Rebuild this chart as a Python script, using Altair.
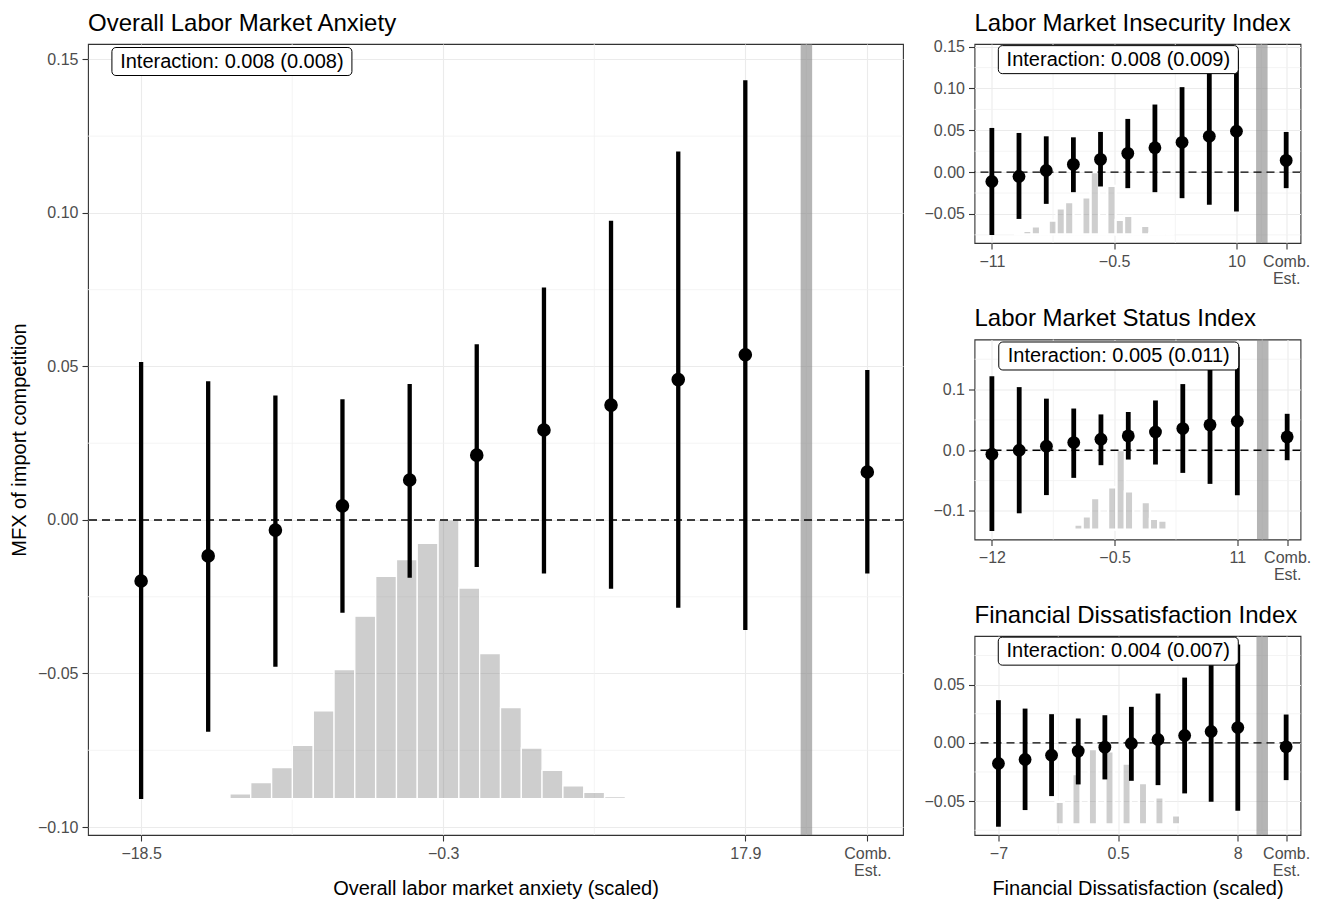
import altair as alt
import pandas as pd

FONT = "Liberation Sans"

# ---------------- data ----------------
# Main panel: Overall Labor Market Anxiety
main_x = [-18.5, -14.46, -10.41, -6.37, -2.32, 1.72, 5.77, 9.81, 13.86, 17.9]
main_est = [-0.0199, -0.0117, -0.0033, 0.0046, 0.0130, 0.0211, 0.0293, 0.0374, 0.0457, 0.0538]
main_lo = [-0.0909, -0.0690, -0.0478, -0.0302, -0.0188, -0.0153, -0.0174, -0.0224, -0.0286, -0.0358]
main_hi = [0.0514, 0.0452, 0.0405, 0.0393, 0.0443, 0.0572, 0.0757, 0.0974, 0.1200, 0.1432]
main_comb = [25.25, 0.0156, -0.0174, 0.0488]
main_hist_c = [-13.77, -12.52, -11.27, -10.01, -8.76, -7.50, -6.25, -5.00, -3.74, -2.49,
               -1.24, 0.02, 1.27, 2.52, 3.78, 5.03, 6.28, 7.54, 8.79, 10.05]
main_hist_h = [0.004, 0.018, 0.058, 0.112, 0.192, 0.315, 0.463, 0.655, 0.798, 0.858,
               0.916, 1.0, 0.756, 0.521, 0.327, 0.182, 0.102, 0.046, 0.023, 0.008]
main_ticks = [-18.5, -0.3, 17.9, 25.25]
main_tick_labels = ["\u221218.5", "\u22120.3", "17.9", "Comb.|Est."]
main_label = ["Interaction: 0.008 (0.008)", -13.03, 0.1493]

# Panel 1: Labor Market Insecurity Index
p1_x = [-11, -8.67, -6.33, -4.0, -1.67, 0.67, 3.0, 5.33, 7.67, 10]
p1_est = [-0.0112, -0.0052, 0.0020, 0.0092, 0.0152, 0.0224, 0.0292, 0.0356, 0.0428, 0.0488]
p1_lo = [-0.0752, -0.0560, -0.0380, -0.0240, -0.0172, -0.0192, -0.0240, -0.0312, -0.0392, -0.0472]
p1_hi = [0.0528, 0.0468, 0.0428, 0.0416, 0.0480, 0.0636, 0.0808, 0.1016, 0.1248, 0.1448]
p1_comb = [14.27, 0.0140, -0.0192, 0.0480]
p1_hist_c = [-8.65, -7.94, -7.22, -6.50, -5.76, -5.08, -4.36, -3.64, -2.87, -2.16,
             -1.44, -0.73, -0.01, 0.71, 1.42, 2.17, 2.88, 3.57, 4.31]
p1_hist_h = [0.016, 0.055, 0.126, 0, 0.22, 0.418, 0.516, 0, 0.593, 1.0,
             0, 0.78, 0.231, 0.297, 0, 0.137, 0.016, 0, 0]
p1_ticks = [-11, -0.5, 10, 14.27]
p1_tick_labels = ["\u221211", "\u22120.5", "10", "Comb.|Est."]
p1_label = ["Interaction: 0.008 (0.009)", -0.14, 0.1345]

# Panel 2: Labor Market Status Index
p2_x = [-12, -9.44, -6.89, -4.33, -1.78, 0.78, 3.33, 5.89, 8.44, 11]
p2_est = [-0.0066, 0.0000, 0.0066, 0.0126, 0.0180, 0.0236, 0.0300, 0.0357, 0.0418, 0.0478]
p2_lo = [-0.133, -0.104, -0.074, -0.0456, -0.0247, -0.0154, -0.0236, -0.0374, -0.0555, -0.0742]
p2_hi = [0.122, 0.104, 0.085, 0.0687, 0.059, 0.063, 0.082, 0.109, 0.139, 0.170]
p2_comb = [15.67, 0.022, -0.0165, 0.060]
p2_hist_c = [-4.70, -3.88, -3.10, -2.32, -1.53, -0.72, 0.07, 0.85, 1.63, 2.42, 3.20, 3.98]
p2_hist_h = [0.017, 0.064, 0.169, 0.398, 0, 0.534, 1.0, 0.483, 0, 0.347, 0.136, 0.114]
p2_ticks = [-12, -0.5, 11, 15.67]
p2_tick_labels = ["\u221212", "\u22120.5", "11", "Comb.|Est."]
p2_label = ["Interaction: 0.005 (0.011)", -0.11, 0.1553]

# Panel 3: Financial Dissatisfaction Index
p3_x = [-7, -5.33, -3.67, -2.0, -0.33, 1.33, 3.0, 4.67, 6.33, 8]
p3_est = [-0.0177, -0.0143, -0.0106, -0.0071, -0.0037, -0.0006, 0.0029, 0.0063, 0.0097, 0.0131]
p3_lo = [-0.0720, -0.0577, -0.0457, -0.0357, -0.0314, -0.0326, -0.0363, -0.0434, -0.0506, -0.0583]
p3_hi = [0.0366, 0.0294, 0.0246, 0.0209, 0.0237, 0.0309, 0.0423, 0.0560, 0.0700, 0.0845]
p3_comb = [11.03, -0.0034, -0.0320, 0.0243]
p3_hist_c = [-4.20, -3.16, -2.11, -1.08, -0.04, 1.03, 2.06, 3.09, 4.13]
p3_hist_h = [0.03, 0.30, 0.67, 1.0, 0.97, 0.81, 0.55, 0.36, 0.12]
p3_ticks = [-7, 0.5, 8, 11.03]
p3_tick_labels = ["\u22127", "0.5", "8", "Comb.|Est."]
p3_label = ["Interaction: 0.004 (0.007)", 0.51, 0.0787]


def label_expr(ticks, labels):
    expr = "''"
    for v, lab in reversed(list(zip(ticks, labels))):
        if "|" in lab:
            parts = lab.split("|")
            s = "[" + ", ".join("'" + p + "'" for p in parts) + "]"
        else:
            s = "'" + lab + "'"
        expr = f"abs(datum.value - ({v})) < 1e-6 ? {s} : ({expr})"
    return expr


def panel(title, xs, est, lo, hi, comb, hist_c, hist_h, hist_base, hist_top, hist_w,
          hist_stroke, ticks, tick_labels, label, xdom, ydom, y_major, y_minor, yfmt,
          band_x, width, height, xtitle=None, ytitle=None, pt_size=170, rule_w=4.4,
          title_offset=2.5):
    xscale = alt.Scale(domain=xdom, nice=False, zero=False)
    yscale = alt.Scale(domain=ydom, nice=False, zero=False)
    xaxis = alt.Axis(values=ticks, labelExpr=label_expr(ticks, tick_labels),
                     title=xtitle if xtitle else None, grid=True, labelLineHeight=17,
                     titlePadding=0)
    yaxis = alt.Axis(values=y_major, format=yfmt, title=ytitle if ytitle else None,
                     grid=True, titlePadding=8)

    def X(f):
        return alt.X(f, type="quantitative", scale=xscale, axis=xaxis)

    def Y(f):
        return alt.Y(f, type="quantitative", scale=yscale, axis=yaxis)

    # minor grid lines (midpoints between ticks)
    x_minor = [(a + b) / 2 for a, b in zip(ticks[:-1], ticks[1:])]
    gx = alt.Chart(pd.DataFrame({"v": x_minor})).mark_rule(
        color="#F1F1F1", strokeWidth=0.8).encode(x=X("v"))
    gy = alt.Chart(pd.DataFrame({"v": y_minor})).mark_rule(
        color="#F1F1F1", strokeWidth=0.8).encode(y=Y("v"))

    hist = pd.DataFrame({"c": hist_c, "h": hist_h})
    hist["x1"] = hist["c"] - hist_w / 2
    hist["x2"] = hist["c"] + hist_w / 2
    hist["y1"] = hist_base
    hist["y2"] = hist_base + hist["h"] * (hist_top - hist_base)
    bars = alt.Chart(hist).mark_rect(
        fill="#7F7F7F", fillOpacity=0.38, stroke="white", strokeWidth=hist_stroke
    ).encode(x=X("x1"), x2="x2", y=Y("y1"), y2="y2")

    band = alt.Chart(pd.DataFrame({"v": [band_x]})).mark_rule(
        color="#7F7F7F", opacity=0.58, strokeWidth=11.5).encode(x=X("v"))

    zero = alt.Chart(pd.DataFrame({"v": [0.0]})).mark_rule(
        color="black", strokeWidth=1.4, strokeDash=[8, 5]).encode(y=Y("v"))

    pts = pd.DataFrame({"x": xs + [comb[0]], "est": est + [comb[1]],
                        "lo": lo + [comb[2]], "hi": hi + [comb[3]]})
    err = alt.Chart(pts).mark_rule(color="black", strokeWidth=rule_w).encode(
        x=X("x"), y=Y("lo"), y2="hi")
    dots = alt.Chart(pts).mark_circle(color="black", opacity=1, size=pt_size).encode(
        x=X("x"), y=Y("est"))

    lab = pd.DataFrame({"text": [label[0]], "x": [label[1]], "y": [label[2]]})
    box = alt.Chart(lab).mark_rect(
        width=240, height=28, cornerRadius=4, fill="white", stroke="black",
        strokeWidth=1).encode(x=X("x"), y=Y("y"))
    txt = alt.Chart(lab).mark_text(font=FONT, fontSize=20, color="black").encode(
        x=X("x"), y=Y("y"), text="text:N")

    return alt.layer(gx, gy, bars, band, zero, err, dots, box, txt).properties(
        width=width, height=height,
        title=alt.TitleParams(title, anchor="start", frame="group", fontSize=24,
                              font=FONT, fontWeight="normal", color="black",
                              offset=title_offset))


main = panel("Overall Labor Market Anxiety", main_x, main_est, main_lo, main_hi, main_comb,
             main_hist_c, main_hist_h, -0.0908, 0.0, 1.2535, 1.3,
             main_ticks, main_tick_labels, main_label,
             [-21.7, 27.4], [-0.1026, 0.155],
             [-0.10, -0.05, 0.0, 0.05, 0.10, 0.15], [-0.075, -0.025, 0.025, 0.075, 0.125],
             ".2f", 21.58, 815, 791,
             xtitle="Overall labor market anxiety (scaled)",
             ytitle="MFX of import competition", pt_size=185, rule_w=4.3)

p1 = panel("Labor Market Insecurity Index", p1_x, p1_est, p1_lo, p1_hi, p1_comb,
           p1_hist_c, p1_hist_h, -0.0744, 0.0, 0.72, 2.3,
           p1_ticks, p1_tick_labels, p1_label,
           [-12.49, 15.5], [-0.0848, 0.1532],
           [-0.05, 0.0, 0.05, 0.10, 0.15], [-0.075, -0.025, 0.025, 0.075, 0.125],
           ".2f", 12.18, 326, 199, pt_size=165, rule_w=4.8)

p2 = panel("Labor Market Status Index", p2_x, p2_est, p2_lo, p2_hi, p2_comb,
           p2_hist_c, p2_hist_h, -0.131, 0.0, 0.785, 2.3,
           p2_ticks, p2_tick_labels, p2_label,
           [-13.63, 16.92], [-0.1472, 0.1825],
           [-0.1, 0.0, 0.1], [-0.05, 0.05, 0.15],
           ".1f", 13.38, 326, 200, pt_size=165, rule_w=4.8)

p3 = panel("Financial Dissatisfaction Index", p3_x, p3_est, p3_lo, p3_hi, p3_comb,
           p3_hist_c, p3_hist_h, -0.070, -0.0054, 0.52, 2.4,
           p3_ticks, p3_tick_labels, p3_label,
           [-8.5, 11.93], [-0.0791, 0.0917],
           [-0.05, 0.0, 0.05], [-0.075, -0.025, 0.025, 0.075],
           ".2f", 9.53, 326, 199, xtitle="Financial Dissatisfaction (scaled)",
           pt_size=165, rule_w=4.8)

right = alt.vconcat(p1, p2, p3, spacing=19.5)
chart = alt.hconcat(main, right, spacing=17.5).properties(
    padding={"left": 0, "top": 3, "right": 0, "bottom": 0}
).configure_view(
    stroke="#333333", strokeWidth=1.1
).configure_axis(
    labelFont=FONT, labelFontSize=16, labelColor="#4D4D4D",
    titleFont=FONT, titleFontSize=20, titleFontWeight="normal", titleColor="black",
    tickColor="#333333", tickSize=6, tickWidth=1.1, domain=False,
    gridColor="#EBEBEB", gridWidth=1.1, labelPadding=4
)

chart.save("out.html", embed_options={"renderer": "svg", "actions": False})
